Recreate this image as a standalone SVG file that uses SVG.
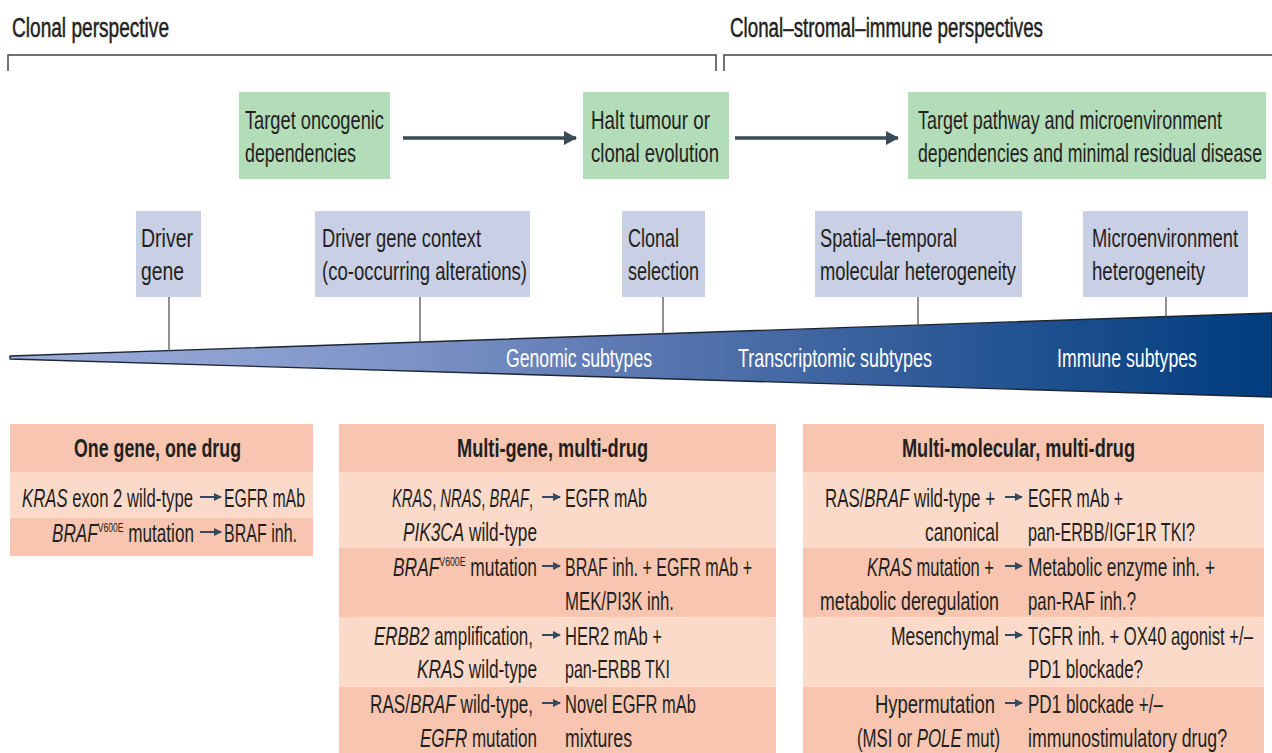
<svg xmlns="http://www.w3.org/2000/svg" width="1272" height="753" viewBox="0 0 1272 753">
<style>
text{font-family:"Liberation Sans",Arial,sans-serif;font-size:26px;fill:#231f20}
.ti{font-size:27px;stroke:#231f20;stroke-width:0.5}
.h{font-weight:bold;font-size:25px}
.w{fill:#ffffff}
.i{font-style:italic}
.sup{font-size:13px}
.green{fill:#b3dcb9}
.blue{fill:#c9cfe4}
.dk{fill:#f8c6b0}
.lt{fill:#fcdaca}
.tick{stroke:#555;stroke-width:1.3;fill:none}
.big{stroke:#3a4a56;stroke-width:3.5;fill:none}
.sm{stroke:#34495e;stroke-width:2;fill:none}
.br{stroke:#444;stroke-width:1.5;fill:none}
</style>
<defs>
<marker id="ah" markerUnits="userSpaceOnUse" markerWidth="13" markerHeight="14" refX="12" refY="7" orient="auto">
<path d="M0,0 L13,7 L0,14 z" fill="#3a4a56"/>
</marker>
<marker id="sah" markerUnits="userSpaceOnUse" markerWidth="8" markerHeight="8" refX="7" refY="4" orient="auto">
<path d="M0,0 L8,4 L0,8 z" fill="#34495e"/>
</marker>
<linearGradient id="wg" x1="10" y1="0" x2="1272" y2="0" gradientUnits="userSpaceOnUse">
<stop offset="0" stop-color="#9eaedb"/>
<stop offset="0.3" stop-color="#7f95c8"/>
<stop offset="0.5" stop-color="#5a77b0"/>
<stop offset="0.75" stop-color="#2b5896"/>
<stop offset="1" stop-color="#003c7e"/>
</linearGradient>
</defs>

<g id="titles">
<text class="ti" x="12" y="37" textLength="157" lengthAdjust="spacingAndGlyphs">Clonal perspective</text>
<text class="ti" x="730" y="37" textLength="313" lengthAdjust="spacingAndGlyphs">Clonal–stromal–immune perspectives</text>
<path class="br" d="M8,71 V55 H716 V71"/>
<path class="br" d="M724,71 V55 H1272"/>
</g>

<g id="g-target">
<rect class="green" x="239" y="92" width="151" height="87"/>
<text x="245" y="129" textLength="139" lengthAdjust="spacingAndGlyphs">Target oncogenic</text>
<text x="245" y="162" textLength="111" lengthAdjust="spacingAndGlyphs">dependencies</text>
</g>
<g id="g-halt">
<rect class="green" x="583" y="92" width="146" height="87"/>
<text x="591" y="129" textLength="119" lengthAdjust="spacingAndGlyphs">Halt tumour or</text>
<text x="591" y="162" textLength="128" lengthAdjust="spacingAndGlyphs">clonal evolution</text>
</g>
<g id="g-pathway">
<rect class="green" x="908" y="92" width="358" height="87"/>
<text x="918" y="129" textLength="304" lengthAdjust="spacingAndGlyphs">Target pathway and microenvironment</text>
<text x="918" y="162" textLength="344" lengthAdjust="spacingAndGlyphs">dependencies and minimal residual disease</text>
</g>

<g id="b-driver">
<rect class="blue" x="136" y="211" width="65" height="86"/>
<text x="141" y="247" textLength="52" lengthAdjust="spacingAndGlyphs">Driver</text>
<text x="141" y="280" textLength="43" lengthAdjust="spacingAndGlyphs">gene</text>
</g>
<g id="b-context">
<rect class="blue" x="315" y="211" width="215" height="86"/>
<text x="322" y="247" textLength="159" lengthAdjust="spacingAndGlyphs">Driver gene context</text>
<text x="322" y="280" textLength="205" lengthAdjust="spacingAndGlyphs">(co-occurring alterations)</text>
</g>
<g id="b-clonal">
<rect class="blue" x="622" y="211" width="83" height="86"/>
<text x="628" y="247" textLength="51" lengthAdjust="spacingAndGlyphs">Clonal</text>
<text x="628" y="280" textLength="71" lengthAdjust="spacingAndGlyphs">selection</text>
</g>
<g id="b-spatial">
<rect class="blue" x="815" y="211" width="207" height="86"/>
<text x="820" y="247" textLength="137" lengthAdjust="spacingAndGlyphs">Spatial–temporal</text>
<text x="820" y="280" textLength="196" lengthAdjust="spacingAndGlyphs">molecular heterogeneity</text>
</g>
<g id="b-micro">
<rect class="blue" x="1083" y="211" width="165" height="86"/>
<text x="1092" y="247" textLength="146" lengthAdjust="spacingAndGlyphs">Microenvironment</text>
<text x="1092" y="280" textLength="113" lengthAdjust="spacingAndGlyphs">heterogeneity</text>
</g>

<g id="wedge">
<polygon points="10,356 1272,313 1272,397 10,359" fill="url(#wg)" stroke="#1e2430" stroke-width="1.4" stroke-linejoin="round"/>
<text class="w" x="506" y="367" textLength="146" lengthAdjust="spacingAndGlyphs">Genomic subtypes</text>
<text class="w" x="738" y="367" textLength="194" lengthAdjust="spacingAndGlyphs">Transcriptomic subtypes</text>
<text class="w" x="1057" y="367" textLength="140" lengthAdjust="spacingAndGlyphs">Immune subtypes</text>
</g>

<g id="connectors">
<line class="big" x1="403" y1="138" x2="576" y2="138" marker-end="url(#ah)"/>
<line class="big" x1="735" y1="138" x2="898" y2="138" marker-end="url(#ah)"/>
<line class="tick" x1="169" y1="297" x2="169" y2="351"/>
<line class="tick" x1="420" y1="297" x2="420" y2="342"/>
<line class="tick" x1="663" y1="297" x2="663" y2="334"/>
<line class="tick" x1="918" y1="297" x2="918" y2="325"/>
<line class="tick" x1="1166" y1="297" x2="1166" y2="317"/>
</g>

<g id="t-one">
<rect class="dk" x="10" y="424" width="303" height="48"/>
<rect class="lt" x="10" y="472" width="303" height="46"/>
<rect class="dk" x="10" y="518" width="303" height="38"/>
<text class="h" x="74" y="457" textLength="167" lengthAdjust="spacingAndGlyphs">One gene, one drug</text>
<text x="22" y="507" textLength="171" lengthAdjust="spacingAndGlyphs"><tspan class="i">KRAS</tspan> exon 2 wild-type</text>
<line class="sm" x1="200" y1="497" x2="221" y2="497" marker-end="url(#sah)"/>
<text x="224" y="507" textLength="81" lengthAdjust="spacingAndGlyphs">EGFR mAb</text>
<text x="52" y="542" textLength="142" lengthAdjust="spacingAndGlyphs"><tspan class="i">BRAF</tspan><tspan class="sup" dy="-10">V600E</tspan><tspan dy="10"> mutation</tspan></text>
<line class="sm" x1="200" y1="532" x2="221" y2="532" marker-end="url(#sah)"/>
<text x="224" y="542" textLength="73" lengthAdjust="spacingAndGlyphs">BRAF inh.</text>
</g>

<g id="t-multigene">
<rect class="dk" x="339" y="424" width="437" height="48"/>
<rect class="lt" x="339" y="472" width="437" height="76"/>
<rect class="dk" x="339" y="548" width="437" height="69"/>
<rect class="lt" x="339" y="617" width="437" height="70"/>
<rect class="dk" x="339" y="687" width="437" height="66"/>
<text class="h" x="457" y="457" textLength="191" lengthAdjust="spacingAndGlyphs">Multi-gene, multi-drug</text>
<text x="392" y="507" textLength="141" lengthAdjust="spacingAndGlyphs"><tspan class="i">KRAS</tspan>, <tspan class="i">NRAS</tspan>, <tspan class="i">BRAF</tspan>,</text>
<text x="403" y="541" textLength="134" lengthAdjust="spacingAndGlyphs"><tspan class="i">PIK3CA</tspan> wild-type</text>
<line class="sm" x1="542" y1="497" x2="560" y2="497" marker-end="url(#sah)"/>
<text x="565" y="507" textLength="82" lengthAdjust="spacingAndGlyphs">EGFR mAb</text>
<text x="393" y="576" textLength="144" lengthAdjust="spacingAndGlyphs"><tspan class="i">BRAF</tspan><tspan class="sup" dy="-10">V600E</tspan><tspan dy="10"> mutation</tspan></text>
<line class="sm" x1="542" y1="566" x2="560" y2="566" marker-end="url(#sah)"/>
<text x="565" y="576" textLength="187" lengthAdjust="spacingAndGlyphs">BRAF inh. + EGFR mAb +</text>
<text x="565" y="610" textLength="109" lengthAdjust="spacingAndGlyphs">MEK/PI3K inh.</text>
<text x="374" y="645" textLength="159" lengthAdjust="spacingAndGlyphs"><tspan class="i">ERBB2</tspan> amplification,</text>
<text x="417" y="678" textLength="120" lengthAdjust="spacingAndGlyphs"><tspan class="i">KRAS</tspan> wild-type</text>
<line class="sm" x1="542" y1="635" x2="560" y2="635" marker-end="url(#sah)"/>
<text x="565" y="645" textLength="97" lengthAdjust="spacingAndGlyphs">HER2 mAb +</text>
<text x="565" y="678" textLength="105" lengthAdjust="spacingAndGlyphs">pan-ERBB TKI</text>
<text x="370" y="713" textLength="163" lengthAdjust="spacingAndGlyphs">RAS/<tspan class="i">BRAF</tspan> wild-type,</text>
<text x="420" y="747" textLength="117" lengthAdjust="spacingAndGlyphs"><tspan class="i">EGFR</tspan> mutation</text>
<line class="sm" x1="542" y1="703" x2="560" y2="703" marker-end="url(#sah)"/>
<text x="565" y="713" textLength="131" lengthAdjust="spacingAndGlyphs">Novel EGFR mAb</text>
<text x="565" y="747" textLength="67" lengthAdjust="spacingAndGlyphs">mixtures</text>
</g>

<g id="t-multimolecular">
<rect class="dk" x="803" y="424" width="461" height="48"/>
<rect class="lt" x="803" y="472" width="461" height="76"/>
<rect class="dk" x="803" y="548" width="461" height="69"/>
<rect class="lt" x="803" y="617" width="461" height="70"/>
<rect class="dk" x="803" y="687" width="461" height="66"/>
<text class="h" x="902" y="457" textLength="233" lengthAdjust="spacingAndGlyphs">Multi-molecular, multi-drug</text>
<text x="825" y="507" textLength="170" lengthAdjust="spacingAndGlyphs">RAS/<tspan class="i">BRAF</tspan> wild-type +</text>
<text x="925" y="541" textLength="74" lengthAdjust="spacingAndGlyphs">canonical</text>
<line class="sm" x1="1005" y1="497" x2="1022" y2="497" marker-end="url(#sah)"/>
<text x="1028" y="507" textLength="95" lengthAdjust="spacingAndGlyphs">EGFR mAb +</text>
<text x="1028" y="541" textLength="167" lengthAdjust="spacingAndGlyphs">pan-ERBB/IGF1R TKI?</text>
<text x="867" y="576" textLength="127" lengthAdjust="spacingAndGlyphs"><tspan class="i">KRAS</tspan> mutation +</text>
<text x="820" y="610" textLength="179" lengthAdjust="spacingAndGlyphs">metabolic deregulation</text>
<line class="sm" x1="1005" y1="566" x2="1022" y2="566" marker-end="url(#sah)"/>
<text x="1028" y="576" textLength="187" lengthAdjust="spacingAndGlyphs">Metabolic enzyme inh. +</text>
<text x="1028" y="610" textLength="108" lengthAdjust="spacingAndGlyphs">pan-RAF inh.?</text>
<text x="891" y="645" textLength="108" lengthAdjust="spacingAndGlyphs">Mesenchymal</text>
<line class="sm" x1="1005" y1="635" x2="1022" y2="635" marker-end="url(#sah)"/>
<text x="1028" y="645" textLength="225" lengthAdjust="spacingAndGlyphs">TGFR inh. + OX40 agonist +/–</text>
<text x="1028" y="678" textLength="115" lengthAdjust="spacingAndGlyphs">PD1 blockade?</text>
<text x="875" y="713" textLength="120" lengthAdjust="spacingAndGlyphs">Hypermutation</text>
<text x="857" y="747" textLength="143" lengthAdjust="spacingAndGlyphs">(MSI or <tspan class="i">POLE</tspan> mut)</text>
<line class="sm" x1="1005" y1="703" x2="1022" y2="703" marker-end="url(#sah)"/>
<text x="1028" y="713" textLength="135" lengthAdjust="spacingAndGlyphs">PD1 blockade +/–</text>
<text x="1028" y="747" textLength="199" lengthAdjust="spacingAndGlyphs">immunostimulatory drug?</text>
</g>
</svg>
